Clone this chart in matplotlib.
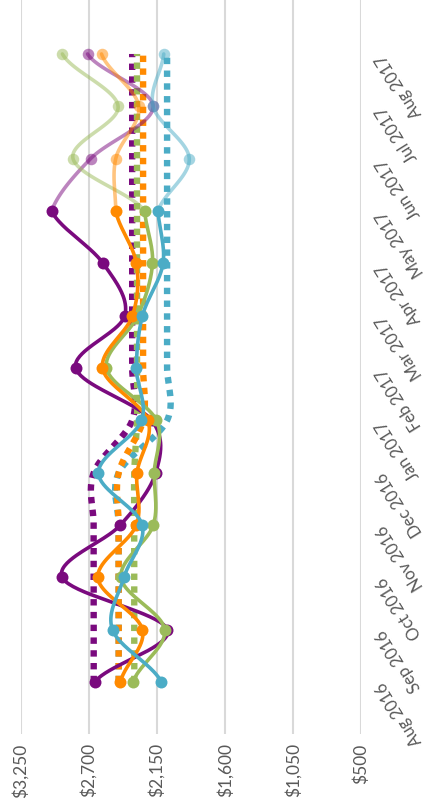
import numpy as np
import matplotlib
matplotlib.use("Agg")
import matplotlib.pyplot as plt

# ---------------- data ----------------
MONTHS = ["Aug 2016", "Sep 2016", "Oct 2016", "Nov 2016", "Dec 2016", "Jan 2017",
          "Feb 2017", "Mar 2017", "Apr 2017", "May 2017", "Jun 2017", "Jul 2017", "Aug 2017"]

# actuals: Aug 2016 .. May 2017
purple_actual = [2652, 2064, 2914, 2445, 2159, 2191, 2805, 2409, 2584, 3001]
green_actual  = [2342, 2086, 2440, 2179, 2171, 2153, 2557, 2304, 2185, 2248]
orange_actual = [2444, 2266, 2627, 2316, 2310, 2221, 2589, 2347, 2315, 2482]
teal_actual   = [2113, 2508, 2416, 2268, 2622, 2274, 2315, 2266, 2100, 2140]

# forecast: May 2017 .. Aug 2017
purple_fcst = [3001, 2685, 2180, 2710]
green_fcst  = [2248, 2827, 2463, 2913]
orange_fcst = [2482, 2482, 2296, 2597]
teal_fcst   = [2140, 1888, 2180, 2094]

# targets, Aug 2016 .. Aug 2017
purple_target = [2660, 2660, 2660, 2660, 2660, 2349, 2349, 2349, 2349, 2349, 2349, 2349, 2349]
green_target  = [2332, 2332, 2332, 2332, 2332, 2310, 2310, 2310, 2310, 2310, 2310, 2310, 2310]
orange_target = [2458, 2458, 2458, 2458, 2458, 2261, 2261, 2261, 2261, 2261, 2261, 2261, 2261]
teal_target   = [2458, 2458, 2458, 2458, 2458, 2067, 2067, 2067, 2067, 2067, 2067, 2067, 2067]

VALUE_TICKS = [3250, 2700, 2150, 1600, 1050, 500]

PURPLE = "#7A0A7E"
GREEN = "#9BBB59"
ORANGE = "#FF8A00"
TEAL = "#4BACC6"
TEXT = "#595959"


def smooth(start, vals, n=40):
    """Catmull-Rom curve through the points, like Excel's smoothed line."""
    v = np.asarray(vals, dtype=float)
    p = np.concatenate([[v[0]], v, [v[-1]]])
    xs, ys = [], []
    t = np.linspace(0, 1, n, endpoint=False)
    for i in range(len(v) - 1):
        p0, p1, p2, p3 = p[i:i + 4]
        y = 0.5 * (2 * p1 + (-p0 + p2) * t + (2 * p0 - 5 * p1 + 4 * p2 - p3) * t ** 2
                   + (-p0 + 3 * p1 - 3 * p2 + p3) * t ** 3)
        xs.append(start + i + t)
        ys.append(y)
    xs.append([start + len(v) - 1])
    ys.append([v[-1]])
    return np.concatenate(xs), np.concatenate(ys)


plt.rcParams["font.family"] = ["Lato", "DejaVu Sans"]

fig = plt.figure(figsize=(4.30, 8.03), dpi=100)
ax = fig.add_axes([20.7 / 430, 68 / 803, (361 - 20.7) / 430, 735 / 803])

# values run along x (reversed), months along y
ax.set_xlim(3250, 500)
ax.set_ylim(-0.99, 13.05)

for xv in VALUE_TICKS:
    ax.axvline(xv, color="#D9D9D9", lw=1.5, zorder=0)

# targets (dotted)
for vals, col in [(teal_target, TEAL), (purple_target, PURPLE),
                  (green_target, GREEN), (orange_target, ORANGE)]:
    m, y = smooth(0, vals)
    ax.plot(y, m, color=col, lw=4.6, ls=(0, (1, 1)), dash_capstyle="butt", zorder=2)

# actuals and forecasts
series = [(purple_actual, purple_fcst, PURPLE), (green_actual, green_fcst, GREEN),
          (orange_actual, orange_fcst, ORANGE), (teal_actual, teal_fcst, TEAL)]
for act, fc, col in series:
    m, y = smooth(9, fc)
    ax.plot(y, m, color=col, lw=2.6, alpha=0.5, zorder=3, solid_capstyle="round")
    ax.plot(fc[1:], np.arange(10, 13), "o", color=col, ms=8.3, alpha=0.5, mec="none", zorder=3)
for act, fc, col in series:
    m, y = smooth(0, act)
    ax.plot(y, m, color=col, lw=2.6, zorder=4, solid_capstyle="round")
    ax.plot(act, np.arange(len(act)), "o", color=col, ms=8.6, mec="none", zorder=4)

ax.set_xticks(VALUE_TICKS)
ax.set_xticklabels([f"${v:,}" for v in VALUE_TICKS], rotation=90, va="top", ha="center",
                   fontsize=12.5, color=TEXT)
ax.yaxis.tick_right()
ax.set_yticks(range(len(MONTHS)))
ax.set_yticklabels(MONTHS, rotation=122, rotation_mode="anchor", ha="right", va="center",
                   fontsize=12, color=TEXT)
ax.tick_params(axis="both", length=0)
ax.tick_params(axis="x", pad=6)
ax.tick_params(axis="y", pad=14)
for s in ax.spines.values():
    s.set_visible(False)

fig.savefig("out.png", dpi=100)
